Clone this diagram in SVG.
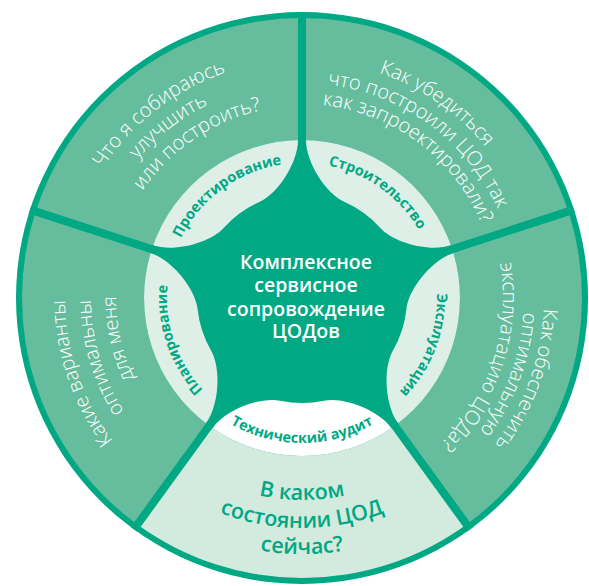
<svg xmlns="http://www.w3.org/2000/svg" width="589" height="586" viewBox="0 0 589 586">
<style>
.dk{fill:#00a884}
.md{fill:#66bd9e}
.lt{fill:#d3eadf}
.bd{fill:#ddefe7}
.wh{fill:#ffffff}
.dv{stroke:#00a884;stroke-width:8;fill:none}
.q{font-family:"Open Sans","Noto Sans","Liberation Sans",sans-serif;font-size:20px;font-weight:300;fill:#ffffff;text-anchor:middle}
.lb{font-family:"Open Sans","Noto Sans","Liberation Sans",sans-serif;font-size:14.5px;font-weight:700;fill:#00a884;text-anchor:middle}
.bt{font-family:"Open Sans","Noto Sans","Liberation Sans",sans-serif;font-size:21.5px;font-weight:600;fill:#00a884;text-anchor:middle}
.ct{font-family:"Open Sans","Noto Sans","Liberation Sans",sans-serif;font-size:19.5px;font-weight:600;fill:#ffffff;text-anchor:middle}
</style>
<defs>
<path id="t135" d="M185.09,230.5 A135 135 0 0 1 418.91,230.5"/>
<path id="t238" d="M95.89,179 A238 238 0 0 1 508.11,179"/>
<path id="t215" d="M115.81,190.5 A215 215 0 0 1 488.19,190.5"/>
<path id="t192" d="M135.73,202 A192 192 0 0 1 468.27,202"/>
<path id="t194" d="M134,201 A194 194 0 0 1 470,201"/>
<path id="t242" d="M92.43,177 A242 242 0 0 1 511.57,177"/>
<path id="t222" d="M109.75,187 A222 222 0 0 1 494.25,187"/>
<path id="t201" d="M127.93,197.5 A201 201 0 0 1 476.07,197.5"/>
<path id="t237" d="M96.76,179.5 A237 237 0 0 1 507.24,179.5"/>
<path id="t211" d="M119.27,192.5 A211 211 0 0 1 484.73,192.5"/>
<path id="t186" d="M140.92,205 A186 186 0 0 1 463.08,205"/>
<path id="b145" d="M176.43,370.5 A145 145 0 0 0 427.57,370.5"/>
<path id="b202" d="M127.07,399 A202 202 0 0 0 476.93,399"/>
<path id="b230" d="M102.82,413 A230 230 0 0 0 501.18,413"/>
<path id="b256" d="M80.3,426 A256 256 0 0 0 523.7,426"/>
</defs>

<circle class="dk" cx="302" cy="298" r="286"/>

<g id="design">
<path class="md" d="M302,18 A280 280 0 0 0 35.70,211.48 L151.73,249.18 A158 158 0 0 1 302,140 Z"/>
<path class="bd" d="M302,298 L302,140 A158 158 0 0 0 151.73,249.18 Z"/>
<text class="q" transform="rotate(-37.8 302 298)"><textPath href="#t238" startOffset="50%">Что я собираюсь</textPath></text>
<text class="q" transform="rotate(-37.9 302 298)"><textPath href="#t215" startOffset="50%">улучшить</textPath></text>
<text class="q" transform="rotate(-34.2 302 298)"><textPath href="#t192" startOffset="50%">или построить?</textPath></text>
<text class="lb" transform="rotate(-36.2 302 298)"><textPath href="#t135" startOffset="50%">Проектирование</textPath></text>
</g>

<g id="construction">
<path class="md" d="M568.30,211.48 A280 280 0 0 0 302,18 L302,140 A158 158 0 0 1 452.27,249.18 Z"/>
<path class="bd" d="M302,298 L452.27,249.18 A158 158 0 0 0 302,140 Z"/>
<text class="q" transform="rotate(34.7 302 298)"><textPath href="#t238" startOffset="50%">Как убедиться</textPath></text>
<text class="q" transform="rotate(36.2 302 298)"><textPath href="#t215" startOffset="50%">что построили ЦОД так</textPath></text>
<text class="q" transform="rotate(36.8 302 298)"><textPath href="#t194" startOffset="50%">как запроектировали?</textPath></text>
<text class="lb" transform="rotate(35.5 302 298)"><textPath href="#t135" startOffset="50%">Строительство</textPath></text>
</g>

<g id="operation">
<path class="md" d="M466.58,524.52 A280 280 0 0 0 568.30,211.48 L452.27,249.18 A158 158 0 0 1 394.87,425.82 Z"/>
<path class="bd" d="M302,298 L394.87,425.82 A158 158 0 0 0 452.27,249.18 Z"/>
<text class="q" transform="rotate(109.9 302 298)"><textPath href="#t242" startOffset="50%">Как обеспечить</textPath></text>
<text class="q" transform="rotate(110.3 302 298)"><textPath href="#t222" startOffset="50%">оптимальную</textPath></text>
<text class="q" transform="rotate(108.2 302 298)"><textPath href="#t201" startOffset="50%">эксплуатацию ЦОДа?</textPath></text>
<text class="lb" transform="rotate(111 302 298)"><textPath href="#t135" startOffset="50%">Эксплуатация</textPath></text>
</g>

<g id="audit">
<path class="lt" d="M137.42,524.52 A280 280 0 0 0 466.58,524.52 L394.87,425.82 A158 158 0 0 1 209.13,425.82 Z"/>
<path class="wh" d="M302,298 L209.13,425.82 A158 158 0 0 0 394.87,425.82 Z"/>
<text class="bt"><textPath href="#b202" startOffset="50%">В каком</textPath></text>
<text class="bt"><textPath href="#b230" startOffset="50%">состоянии ЦОД</textPath></text>
<text class="bt"><textPath href="#b256" startOffset="50%">сейчас?</textPath></text>
<text class="lb"><textPath href="#b145" startOffset="50%">Технический аудит</textPath></text>
</g>

<g id="planning">
<path class="md" d="M35.70,211.48 A280 280 0 0 0 137.42,524.52 L209.13,425.82 A158 158 0 0 1 151.73,249.18 Z"/>
<path class="bd" d="M302,298 L151.73,249.18 A158 158 0 0 0 209.13,425.82 Z"/>
<text class="q" transform="rotate(-108.8 302 298)"><textPath href="#t237" startOffset="50%">Какие варианты</textPath></text>
<text class="q" transform="rotate(-106.5 302 298)"><textPath href="#t211" startOffset="50%">оптимальны</textPath></text>
<text class="q" transform="rotate(-102.5 302 298)"><textPath href="#t186" startOffset="50%">для меня</textPath></text>
<text class="lb" transform="rotate(-108.7 302 298)"><textPath href="#t135" startOffset="50%">Планирование</textPath></text>
</g>

<g id="connectors">
<line class="dv" x1="302" y1="298" x2="574.0" y2="209.62"/>
<line class="dv" x1="302" y1="298" x2="302" y2="12"/>
<line class="dv" x1="302" y1="298" x2="30.0" y2="209.62"/>
<line class="dv" x1="302" y1="298" x2="133.89" y2="529.38"/>
<line class="dv" x1="302" y1="298" x2="470.11" y2="529.38"/>
</g>

<g id="hub">
<path class="dk" d="M451.03,245.37 C429.16,252.48 393.41,242.60 380.03,227.74 A105 105 0 0 0 344.71,202.08 C326.44,193.95 306,163 306,140 L298,140 C298,163 277.56,193.95 259.29,202.08 A105 105 0 0 0 223.97,227.74 C210.60,242.60 174.84,252.48 152.97,245.37 L150.50,252.98 C172.37,260.09 195.49,289.09 197.58,308.98 A105 105 0 0 0 211.07,350.50 C221.07,367.81 219.41,404.87 205.89,423.47 L212.37,428.18 C225.89,409.57 260.61,396.54 280.17,400.71 A105 105 0 0 0 323.83,400.71 C343.39,396.54 378.12,409.57 391.63,428.18 L398.11,423.47 C384.59,404.87 382.93,367.81 392.93,350.50 A105 105 0 0 0 406.42,308.98 C408.51,289.09 431.63,260.09 453.50,252.98 Z"/>
<text class="ct" x="306" y="269">Комплексное</text>
<text class="ct" x="306" y="292">сервисное</text>
<text class="ct" x="306" y="315.5">сопровождение</text>
<text class="ct" x="306" y="338">ЦОДов</text>
</g>
</svg>
